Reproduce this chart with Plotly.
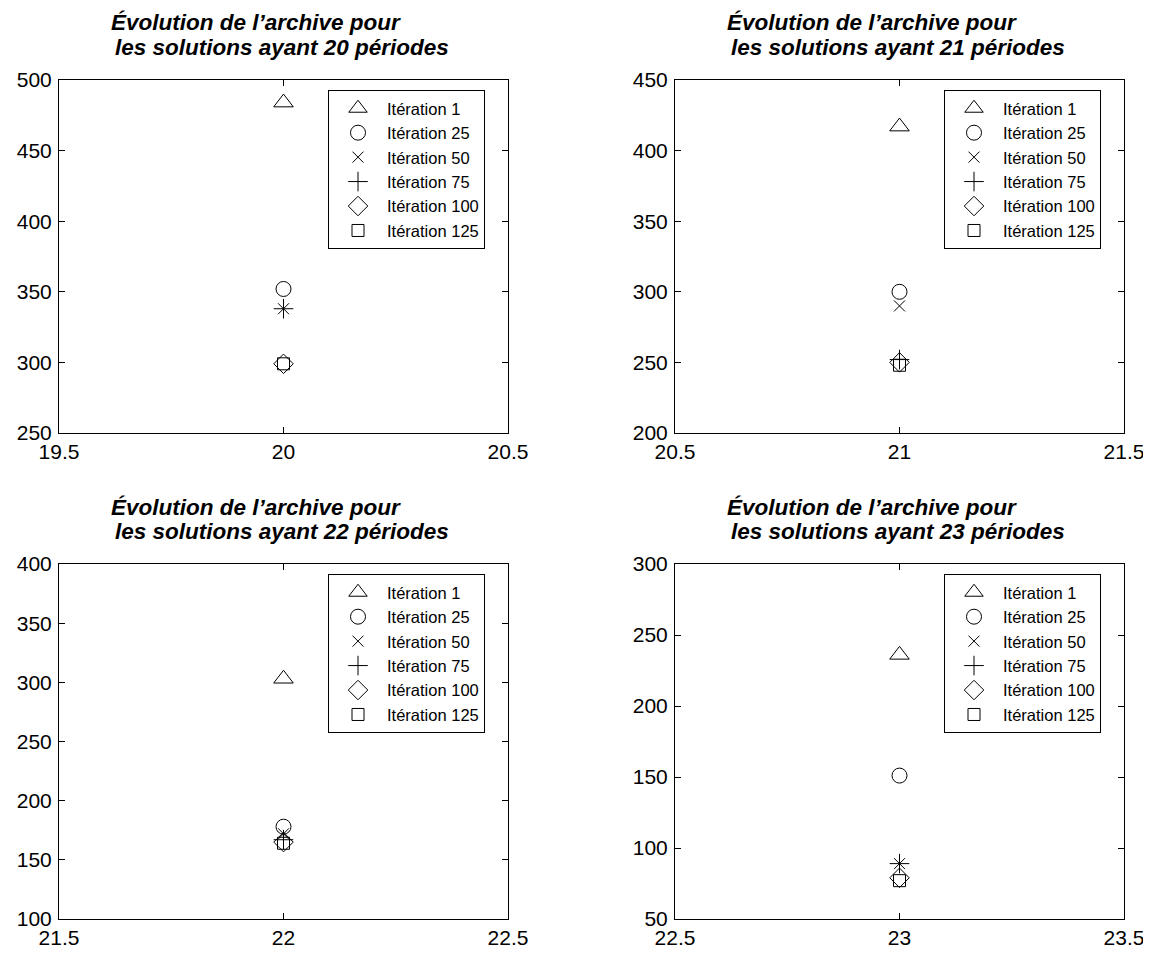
import plotly.graph_objects as go

# The page body adds an 8 px margin, so the figure is drawn 8 px smaller and
# all pixel positions are shifted by that offset.
OFF = 8
W, H = 1151 - OFF, 954 - OFF

periods = [20, 21, 22, 23]
y_ranges = [[250, 500], [200, 450], [100, 400], [50, 300]]
iter_labels = ["Itération 1", "Itération 25", "Itération 50", "Itération 75", "Itération 100", "Itération 125"]
symbols = ["triangle-up-open", "circle-open", "x-thin-open", "cross-thin-open", "diamond-open", "square-open"]
sizes = [17, 15, 11, 14, 15, 12]

iter1 = [484, 417, 303, 236]
iter25 = [352, 300, 178, 151]
iter50 = [338, 290, 172, 89]
iter75 = [338, 252, 167, 89]
iter100 = [299, 250, 165, 79]
iter125 = [299, 248, 164, 77]
series = [iter1, iter25, iter50, iter75, iter100, iter125]

# plot boxes in window pixels: (left, top, right, bottom)
boxes = [(59, 80, 508, 433), (675, 80, 1124, 433), (59, 564, 508, 919), (675, 564, 1124, 919)]

FONT = "Liberation Sans, Arial, Helvetica, sans-serif"


def px(x):
    return (x - OFF) / W


def py(y):
    return 1 - (y - OFF) / H


fig = go.Figure()
layout = dict(
    width=W, height=H,
    margin=dict(l=0, r=0, t=0, b=0, autoexpand=False),
    paper_bgcolor="white", plot_bgcolor="white",
    font=dict(family=FONT, color="black", size=21),
    annotations=[],
)

for k, p in enumerate(periods):
    l, t, r, b = boxes[k]
    xa = "xaxis" if k == 0 else f"xaxis{k+1}"
    ya = "yaxis" if k == 0 else f"yaxis{k+1}"
    xref = "x" if k == 0 else f"x{k+1}"
    yref = "y" if k == 0 else f"y{k+1}"
    lg = "legend" if k == 0 else f"legend{k+1}"
    for s, lab, sym, sz in zip(series, iter_labels, symbols, sizes):
        fig.add_trace(go.Scatter(
            x=[p], y=[s[k]], mode="markers", name=lab,
            marker=dict(symbol=sym, size=sz, color="black", line=dict(color="black", width=1)),
            xaxis=xref, yaxis=yref, legend=lg, showlegend=True,
        ))
    axcommon = dict(showgrid=False, zeroline=False, showline=True, linecolor="black",
                    linewidth=1, mirror="ticks", ticks="inside", ticklen=6, tickcolor="black",
                    automargin=False,
                    tickfont=dict(size=21, family=FONT, color="black"))
    layout[xa] = dict(axcommon, domain=[px(l), px(r)], range=[p - 0.5, p + 0.5], dtick=0.5,
                      tick0=p, anchor=yref, ticklabelstandoff=0)
    layout[ya] = dict(axcommon, domain=[py(b), py(t)], range=y_ranges[k], dtick=50,
                      anchor=xref, ticklabelstandoff=2)
    layout[lg] = dict(x=px(r - 23), y=py(t + 10), xanchor="right", yanchor="top",
                      bordercolor="black", borderwidth=1, bgcolor="white",
                      font=dict(size=16.5, family=FONT, color="black"),
                      itemsizing="trace", itemwidth=48, tracegroupgap=0, traceorder="normal")
    layout["annotations"].append(dict(
        text="<b><i>Évolution de l’archive pour</i></b>", x=px(l + 197), y=py(t - 57),
        xref="paper", yref="paper", xanchor="center", yanchor="middle", showarrow=False,
        font=dict(size=22.5, family=FONT, color="black")))
    layout["annotations"].append(dict(
        text=f"<b><i>les solutions ayant {p} périodes</i></b>", x=px(l + 223), y=py(t - 33),
        xref="paper", yref="paper", xanchor="center", yanchor="middle", showarrow=False,
        font=dict(size=22.5, family=FONT, color="black")))

fig.update_layout(**layout)
fig.write_html("out.html")
